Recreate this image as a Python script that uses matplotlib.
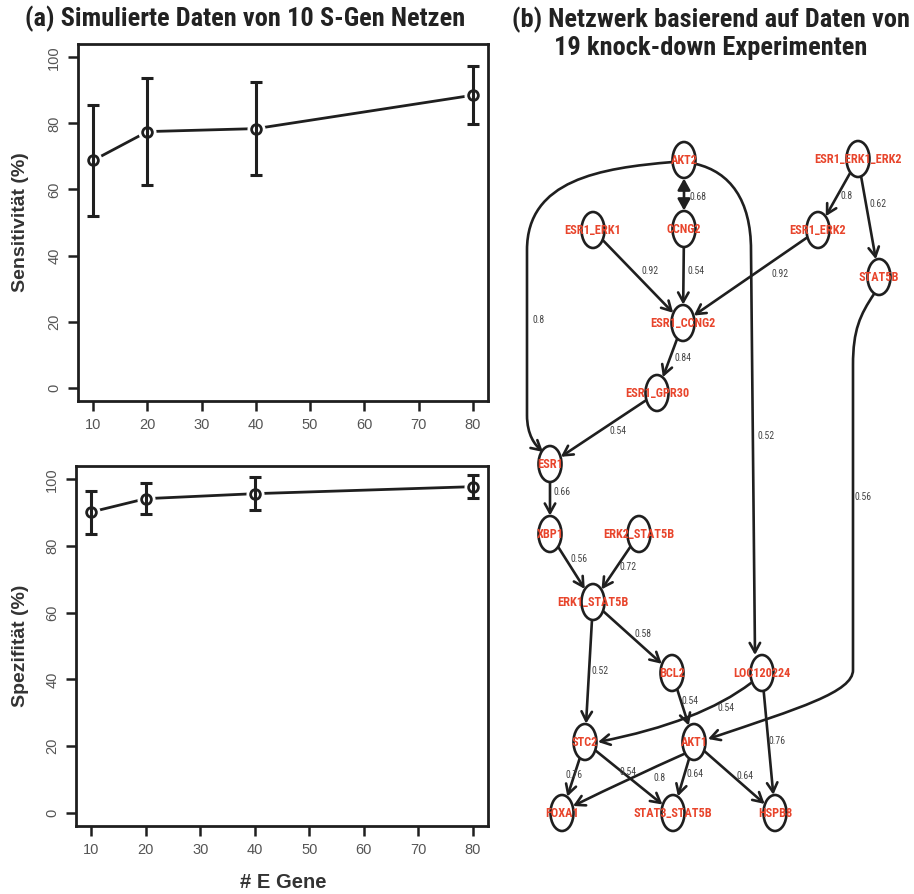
import matplotlib
matplotlib.use("Agg")
import matplotlib.pyplot as plt
from matplotlib import font_manager
from matplotlib.font_manager import FontProperties
from matplotlib.patches import Ellipse, FancyArrowPatch
from matplotlib.path import Path
import numpy as np

# ---------------- data: simulation study ----------------
genes = [10, 20, 40, 80]
sens_mean = [68.8, 77.5, 78.4, 88.5]
sens_lo = [52.1, 61.3, 64.3, 79.9]
sens_hi = [85.4, 93.7, 92.6, 97.2]
spec_mean = [90.2, 94.2, 95.7, 97.8]
spec_lo = [83.7, 89.5, 90.8, 94.3]
spec_hi = [96.5, 99.0, 100.7, 101.2]
x_ticks = [10, 20, 30, 40, 50, 60, 70, 80]
y_ticks = [0, 20, 40, 60, 80, 100]

# ---------------- data: inferred network ----------------
nodes = ["AKT2", "ESR1_ERK1_ERK2", "ESR1_ERK1", "CCNG2", "ESR1_ERK2", "STAT5B",
         "ESR1_CCNG2", "ESR1_GPR30", "ESR1", "XBP1", "ERK2_STAT5B", "ERK1_STAT5B",
         "BCL2", "LOC120224", "STC2", "AKT1", "FOXA1", "STAT3_STAT5B", "HSPB8"]
edge_src = ["AKT2", "AKT2", "AKT2", "ESR1_ERK1", "CCNG2", "ESR1_ERK2",
            "ESR1_ERK1_ERK2", "ESR1_ERK1_ERK2", "ESR1_CCNG2", "ESR1_GPR30", "ESR1",
            "XBP1", "ERK2_STAT5B", "ERK1_STAT5B", "ERK1_STAT5B", "STAT5B", "BCL2",
            "LOC120224", "LOC120224", "STC2", "STC2", "AKT1", "AKT1", "AKT1"]
edge_dst = ["CCNG2", "ESR1", "LOC120224", "ESR1_CCNG2", "ESR1_CCNG2", "ESR1_CCNG2",
            "ESR1_ERK2", "STAT5B", "ESR1_GPR30", "ESR1", "XBP1",
            "ERK1_STAT5B", "ERK1_STAT5B", "BCL2", "STC2", "AKT1", "AKT1",
            "STC2", "HSPB8", "FOXA1", "STAT3_STAT5B", "FOXA1", "STAT3_STAT5B", "HSPB8"]
edge_weight = [0.68, 0.8, 0.52, 0.92, 0.54, 0.92,
               0.8, 0.62, 0.84, 0.54, 0.66,
               0.56, 0.72, 0.58, 0.52, 0.56, 0.54,
               0.54, 0.76, 0.76, 0.54, 0.8, 0.64, 0.64]
edge_both = [True] + [False] * 23

# ---------------- layout of the network (canvas units = pixels) ----------------
node_pos = {
    "AKT2": (684, 160), "ESR1_ERK1_ERK2": (858, 159), "ESR1_ERK1": (593, 230),
    "CCNG2": (684, 229), "ESR1_ERK2": (818, 230), "STAT5B": (879, 277),
    "ESR1_CCNG2": (683, 323), "ESR1_GPR30": (657, 393), "ESR1": (550, 464),
    "XBP1": (550, 534), "ERK2_STAT5B": (639, 534), "ERK1_STAT5B": (593, 602),
    "BCL2": (672, 673), "LOC120224": (762, 673), "STC2": (585, 742),
    "AKT1": (694, 742), "FOXA1": (562, 813), "STAT3_STAT5B": (673, 813),
    "HSPB8": (775, 813),
}
label_pos = [(698, 197), (539, 320), (766, 436), (650, 271), (696, 271), (780, 274),
             (847, 196), (878, 204), (683, 358), (618, 431), (562, 492),
             (579, 559), (628, 567), (643, 634), (600, 671), (863, 497), (690, 701),
             (726, 708), (777, 741), (574, 775), (628, 772), (660, 778), (695, 774),
             (745, 776)]
C4, L2, M, C3 = Path.CURVE4, Path.LINETO, Path.MOVETO, Path.CURVE3
routes = {
    1: ([(673, 162), (600, 168), (527, 180), (527, 250), (527, 415),
         (527, 435), (535, 445), (543, 452)],
        [M, C4, C4, C4, L2, C4, C4, C4]),
    2: ([(696, 164), (730, 172), (751, 200), (751, 250), (755, 655)],
        [M, C4, C4, C4, L2]),
    15: ([(874, 294), (860, 315), (853, 330), (853, 365), (853, 670),
          (853, 692), (800, 708), (708, 739)],
         [M, C4, C4, C4, L2, C4, C4, C4]),
    17: ([(751, 683), (700, 722), (598, 742)], [M, C3, C3]),
    21: ([(684, 754), (630, 778), (573, 806)], [M, C3, C3]),
}
ell_w, ell_h = 23, 36

# ---------------- fonts ----------------
names = {f.name for f in font_manager.fontManager.ttflist}
plain = "Liberation Sans" if "Liberation Sans" in names else "DejaVu Sans"
plt.rcParams["font.family"] = [plain, "DejaVu Sans"]


def condensed_font(bold):
    """Pick a narrow sans face if one is installed, else the plain family."""
    cands = []
    for f in font_manager.fontManager.ttflist:
        nm = f.name.lower()
        narrowish = ("narrow" in nm or "condensed" in nm or
                     str(f.stretch) in ("condensed", "semi-condensed", "extra-condensed"))
        if not narrowish or f.style != "normal":
            continue
        w = f.weight if isinstance(f.weight, int) else (700 if "bold" in str(f.weight) else 400)
        if bold and w < 600:
            continue
        if not bold and w >= 600:
            continue
        rank = 0 if "liberation" in nm else (1 if "roboto" in nm else 2)
        cands.append((rank, f.fname))
    if cands:
        cands.sort()
        return FontProperties(fname=cands[0][1])
    return FontProperties(family=plain, weight="bold" if bold else "normal")


narrow_bold = condensed_font(True)
narrow_reg = condensed_font(False)

W, H = 914, 894
fig = plt.figure(figsize=(W / 100, H / 100), dpi=100)
fig.patch.set_facecolor("white")

ink = "#1f1f1f"
tick_col = "#555555"


def px_axes(left, top, right, bottom):
    return fig.add_axes([left / W, 1 - bottom / H, (right - left) / W, (bottom - top) / H])


def draw_panel(ax, mean, lo, hi, ylabel, label_x):
    m = np.array(mean)
    ax.plot(genes, mean, color=ink, lw=2.0, zorder=2)
    ax.plot(genes, mean, "o", ms=12, mfc="white", mec="white", zorder=3)
    ax.errorbar(genes, mean, yerr=[m - np.array(lo), np.array(hi) - m], fmt="none",
                ecolor=ink, elinewidth=2.2, capsize=4, capthick=2.2, zorder=4)
    ax.plot(genes, mean, "o", ms=7, mfc="none", mec=ink, mew=2.0, zorder=5)
    ax.set_xlim(7.2, 82.8)
    ax.set_ylim(-4, 104)
    ax.set_xticks(x_ticks)
    ax.set_yticks(y_ticks)
    ax.tick_params(direction="out", length=7, width=1.8, color=ink, labelcolor=tick_col,
                   labelsize=10.5, pad=5)
    for lab in ax.get_yticklabels():
        lab.set_rotation(90)
        lab.set_va("center")
    for s in ax.spines.values():
        s.set_linewidth(2.0)
        s.set_color(ink)
    ax.set_ylabel(ylabel, fontsize=14, fontweight="bold", color="#333333")
    ax.yaxis.set_label_coords(label_x, 0.5)


ax1 = px_axes(78, 44, 488, 401)
draw_panel(ax1, sens_mean, sens_lo, sens_hi, "Sensitivität (%)", (29 - 78) / 410)
ax2 = px_axes(76, 466, 488, 826)
draw_panel(ax2, spec_mean, spec_lo, spec_hi, "Spezifität (%)", (29 - 76) / 412)
ax2.set_xlabel("# E Gene", fontsize=14.5, fontweight="bold", color="#333333")
ax2.xaxis.label.set_va("center")
ax2.xaxis.set_label_coords((283 - 76) / 412, -(882 - 826) / 360)

title_fp = narrow_bold.copy()
title_fp.set_size(19)
fig.text(245 / W, 1 - 19 / H, "(a) Simulierte Daten von 10 S-Gen Netzen",
         fontproperties=title_fp, color="#222222", ha="center", va="center")
fig.text(711 / W, 1 - 33 / H, "(b) Netzwerk basierend auf Daten von\n19 knock-down Experimenten",
         fontproperties=title_fp, color="#222222", ha="center", va="center", linespacing=1.15)

# ---------------- network panel ----------------
axn = px_axes(500, 120, 914, 870)
axn.set_xlim(500, 914)
axn.set_ylim(870, 120)
axn.axis("off")

node_fp = narrow_bold.copy()
node_fp.set_size(8.8)
edge_fp = narrow_reg.copy()
edge_fp.set_size(7)

ellipses = {}
for n in nodes:
    e = Ellipse(node_pos[n], ell_w, ell_h, facecolor="white", edgecolor=ink, lw=1.9, zorder=3)
    axn.add_patch(e)
    ellipses[n] = e
    axn.text(*node_pos[n], n, fontproperties=node_fp, color="#e8452c",
             ha="center", va="center", zorder=5)

for i, (s, d, w) in enumerate(zip(edge_src, edge_dst, edge_weight)):
    head = "<|-|>" if edge_both[i] else "->"
    style = head + ",head_length=0.45,head_width=0.25"
    if i in routes:
        verts, codes = routes[i]
        arr = FancyArrowPatch(path=Path(verts, codes), arrowstyle=style, mutation_scale=15,
                              color=ink, lw=1.9, zorder=2)
    else:
        arr = FancyArrowPatch(node_pos[s], node_pos[d], patchA=ellipses[s], patchB=ellipses[d],
                              shrinkA=1, shrinkB=1, arrowstyle=style, mutation_scale=15,
                              color=ink, lw=1.9, zorder=2)
    axn.add_patch(arr)
    axn.text(*label_pos[i], f"{w:g}", fontproperties=edge_fp,
             color="#444444", ha="center", va="center", zorder=4)

fig.savefig("out.png", dpi=100, facecolor="white")
